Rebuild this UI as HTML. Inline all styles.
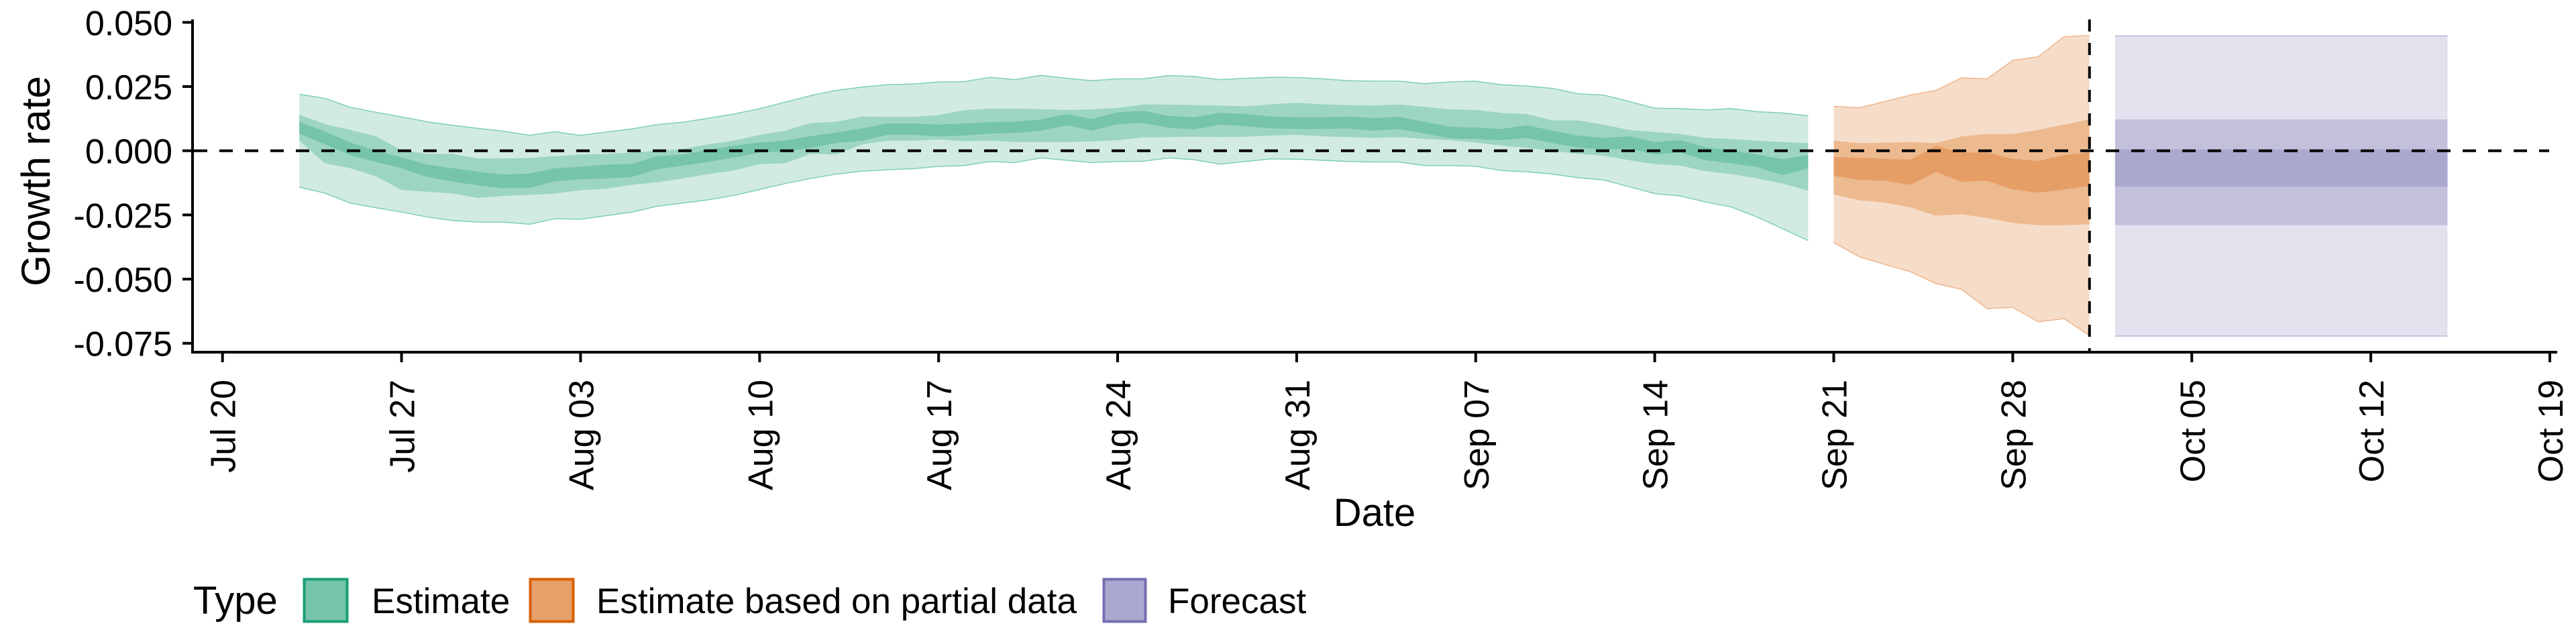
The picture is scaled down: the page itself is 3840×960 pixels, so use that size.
<!DOCTYPE html>
<html><head><meta charset="utf-8"><style>
html,body{margin:0;padding:0;background:#fff}
svg{display:block;font-family:"Liberation Sans",Arial,sans-serif}
</style></head><body>
<svg id="chart" width="3840" height="960" viewBox="0 0 3840 960" xmlns="http://www.w3.org/2000/svg">
<g id="bands"></g>
<g id="axes"></g>
<text x="0" y="0" font-size="60" text-anchor="middle" transform="translate(74,270) rotate(-90)">Growth rate</text>
<text x="2049" y="784" font-size="58" text-anchor="middle">Date</text>
<g>
<text x="288" y="915" font-size="58">Type</text>
<rect x="453.5" y="863.5" width="64" height="63" fill="#76c6ac" stroke="#1b9e77" stroke-width="4"/>
<text x="554" y="914" font-size="53">Estimate</text>
<rect x="790.5" y="863.5" width="64" height="63" fill="#e6a06a" stroke="#d95f02" stroke-width="4"/>
<text x="889" y="914" font-size="53">Estimate based on partial data</text>
<rect x="1645.5" y="863.5" width="62" height="63" fill="#aaa8cf" stroke="#7570b3" stroke-width="4"/>
<text x="1741" y="914" font-size="53">Forecast</text>
</g>
</svg>
<script>
// values in thousandths of growth rate (per-mille)
const estStartDay = 3;   // days after Jul 20
const estOuterUpper = [22.0,20.4,16.9,15.0,13.2,11.3,9.9,8.7,7.6,6.0,7.4,6.0,7.3,8.5,10.2,11.1,12.7,14.3,16.4,18.9,21.5,23.5,24.8,25.7,26.0,26.8,26.9,28.6,27.7,29.4,28.2,27.3,28.0,28.0,29.3,28.9,27.7,28.2,28.6,28.5,28.0,27.3,27.1,27.1,26.1,26.8,27.1,25.7,25.2,24.3,22.2,21.7,19.2,16.6,16.4,15.9,16.4,15.2,14.7,13.6];
const estOuterLower = [-14.2,-16.5,-20.4,-22.2,-23.9,-25.8,-27.2,-27.8,-27.8,-28.6,-26.5,-26.7,-25.3,-23.9,-21.6,-20.4,-19.1,-17.4,-15.1,-12.8,-10.8,-9.1,-8.0,-7.4,-7.0,-6.1,-5.8,-4.2,-4.6,-2.8,-3.7,-4.6,-4.2,-4.1,-2.8,-3.5,-5.2,-4.2,-3.2,-3.3,-3.7,-4.2,-4.4,-4.4,-5.8,-5.8,-6.0,-7.7,-8.2,-9.1,-10.5,-11.4,-14.0,-16.7,-17.6,-20.0,-21.9,-25.8,-30.4,-35.0];
const estMidUpper = [14.1,10.4,8.1,5.6,0.2,-1.2,-1.2,-3.0,-3.0,-2.8,-2.1,-1.5,-1.2,-0.7,0.0,0.7,2.5,3.9,6.2,7.8,10.8,11.3,13.3,13.2,13.2,13.9,15.8,16.4,16.4,16.2,15.9,16.1,16.7,18.0,18.0,17.8,17.6,17.3,18.1,18.7,18.1,17.8,17.6,18.0,17.1,16.1,15.9,14.8,14.3,11.8,11.8,10.2,8.1,7.3,6.5,5.0,4.6,3.9,3.4,3.0];
const estMidLower = [3.9,-4.9,-6.8,-10.0,-15.3,-16.0,-16.7,-18.4,-17.6,-17.2,-16.7,-15.4,-14.8,-13.3,-12.3,-10.8,-9.1,-7.7,-5.2,-4.9,-1.2,-1.5,2.5,3.9,3.9,4.4,3.7,3.9,3.4,3.4,3.4,3.6,4.1,5.2,5.3,5.5,5.3,5.5,5.9,6.2,5.6,5.3,5.0,5.3,4.6,4.1,3.2,2.0,1.1,0.0,-1.2,-1.9,-3.7,-5.2,-5.8,-8.0,-9.1,-10.8,-12.8,-15.6];
const estInnerUpper = [11.3,7.6,3.2,0.0,-2.6,-5.4,-6.8,-8.2,-9.3,-8.9,-6.8,-6.3,-5.4,-5.2,-2.1,-1.5,0.4,2.0,3.2,3.9,5.7,7.1,8.7,10.6,10.6,10.2,10.6,11.1,11.3,12.2,14.3,12.4,15.0,15.5,13.6,13.0,14.8,14.3,13.3,13.0,13.0,13.3,12.7,13.2,11.3,9.3,9.0,8.5,9.9,7.8,5.9,5.0,5.6,3.4,4.1,1.3,0.2,-1.5,-3.3,-1.7];
const estInnerLower = [6.7,2.5,-1.7,-4.4,-6.8,-10.2,-12.0,-13.5,-14.6,-14.5,-11.9,-11.1,-10.8,-10.2,-7.2,-5.8,-4.3,-2.6,-0.7,-0.3,1.1,3.0,3.9,6.2,6.2,5.6,5.9,6.7,6.9,7.8,9.9,7.8,10.4,10.8,9.0,8.3,10.2,9.6,8.7,8.5,8.5,8.7,7.8,8.5,6.7,4.8,4.6,4.1,5.0,3.0,1.3,0.4,0.9,-1.5,-0.7,-3.7,-4.9,-6.3,-9.5,-6.8];

const partStartDay = 63;
const partOuterUpper = [17.3,16.7,19.2,21.7,23.5,28.4,28.0,35.2,36.6,44.4,44.9];
const partOuterLower = [-35.7,-41.3,-44.3,-47.1,-51.7,-54.0,-61.5,-61.0,-66.6,-65.4,-71.9];
const partMidUpper = [3.9,3.0,3.1,3.4,3.0,5.6,6.5,6.5,8.1,10.2,12.2];
const partMidLower = [-17.0,-19.3,-20.2,-22.1,-25.3,-24.8,-26.2,-28.1,-29.0,-29.0,-28.6];
const partInnerUpper = [-2.4,-2.8,-3.1,-3.5,1.9,-0.7,-0.7,-3.1,-4.0,-1.7,-0.6];
const partInnerLower = [-9.8,-11.4,-11.7,-13.3,-8.3,-12.1,-11.7,-15.1,-16.3,-15.1,-13.7];

const fcStartDay = 74, fcEndDay = 87;
const fcOuter = [44.7,-72.2];
const fcMid = [12.2,-29.0];
const fcInner = [0.5,-13.9];

const yTicks = [0.050,0.025,0.000,-0.025,-0.050,-0.075];
const yTickLabels = ["0.050","0.025","0.000","-0.025","-0.050","-0.075"];
const xTickDays = [0,7,14,21,28,35,42,49,56,63,70,77,84,91];
const xTickLabels = ["Jul 20","Jul 27","Aug 03","Aug 10","Aug 17","Aug 24","Aug 31","Sep 07","Sep 14","Sep 21","Sep 28","Oct 05","Oct 12","Oct 19"];
const nowcastDay = 73;

const NS = "http://www.w3.org/2000/svg";
function X(d){ return 331.7 + d*(3801-331.7)/91; }
function Y(v){ return 224.7 - v*3827; }
function Yp(pm){ return Y(pm/1000); }
function mk(tag, attrs, parent){
  const e = document.createElementNS(NS, tag);
  for (const k in attrs) e.setAttribute(k, attrs[k]);
  parent.appendChild(e); return e;
}
const bands = document.getElementById('bands');
const axes = document.getElementById('axes');

function band(start, up, lo, fill, name, stroke){
  const top = up.map((v,i)=>X(start+i).toFixed(1)+','+Yp(v).toFixed(1));
  const bot = lo.map((v,i)=>X(start+i).toFixed(1)+','+Yp(v).toFixed(1)).reverse();
  const p = mk('polygon', {points: top.concat(bot).join(' '), fill: fill}, bands);
  
  
  if (stroke){
    const a = mk('polyline', {points: top.join(' '), fill:'none', stroke:stroke, 'stroke-width':1.5}, bands);
    
    
    const b = mk('polyline', {points: bot.join(' '), fill:'none', stroke:stroke, 'stroke-width':1.5}, bands);
    
    
  }
}
band(estStartDay, estOuterUpper, estOuterLower, '#d2ebe2', 'estimate-outer-band', '#7fcfb5');
band(estStartDay, estMidUpper, estMidLower, '#9dd5c3', 'estimate-mid-band');
band(estStartDay, estInnerUpper, estInnerLower, '#76c4ab', 'estimate-inner-band');
band(partStartDay, partOuterUpper, partOuterLower, '#f6ddca', 'partial-outer-band', '#f0b48a');
band(partStartDay, partMidUpper, partMidLower, '#edba8f', 'partial-mid-band');
band(partStartDay, partInnerUpper, partInnerLower, '#e69e67', 'partial-inner-band');

function fcRect(vals, fill, name, stroke){
  const r = mk('rect', {x: X(fcStartDay), y: Yp(vals[0]), width: X(fcEndDay)-X(fcStartDay), height: Yp(vals[1])-Yp(vals[0]), fill: fill}, bands);
  
  
  if (stroke){
    const l1 = mk('line', {x1:X(fcStartDay), x2:X(fcEndDay), y1:Yp(vals[0]), y2:Yp(vals[0]), stroke:stroke, 'stroke-width':1.5}, bands);
    
    
    const l2 = mk('line', {x1:X(fcStartDay), x2:X(fcEndDay), y1:Yp(vals[1]), y2:Yp(vals[1]), stroke:stroke, 'stroke-width':1.5}, bands);
    
    
  }
}
fcRect(fcOuter, '#e2e2ee', 'forecast-outer-band', '#b8b5d8');
fcRect(fcMid, '#c3c0dc', 'forecast-mid-band');
fcRect(fcInner, '#aaa8cd', 'forecast-inner-band');

// reference lines
const zl = mk('line', {x1:289, x2:3800, y1:Y(0), y2:Y(0), stroke:'#000', 'stroke-width':4, 'stroke-dasharray':'20 18'}, axes);


const vl = mk('line', {x1:X(nowcastDay), x2:X(nowcastDay), y1:29, y2:525, stroke:'#000', 'stroke-width':4, 'stroke-dasharray':'18 17'}, axes);



// axes
const ya = mk('line', {x1:287, x2:287, y1:29, y2:527, stroke:'#000', 'stroke-width':4}, axes);


const xa = mk('line', {x1:285, x2:3812, y1:525, y2:525, stroke:'#000', 'stroke-width':4}, axes);



yTicks.forEach((v,i)=>{
  const t = mk('line', {x1:272, x2:287, y1:Y(v), y2:Y(v), stroke:'#000', 'stroke-width':4}, axes);
  
  
  const tx = mk('text', {x:257, y:Y(v)+19, 'font-size':52, 'text-anchor':'end'}, axes);
  tx.textContent = yTickLabels[i];
  
  
});
xTickDays.forEach((d,i)=>{
  const t = mk('line', {x1:X(d), x2:X(d), y1:525, y2:540, stroke:'#000', 'stroke-width':4}, axes);
  
  
  const bx = X(d)+19;
  const tx = mk('text', {x:0, y:0, 'font-size':52, 'text-anchor':'end', transform:'translate('+bx.toFixed(1)+',566) rotate(-90)'}, axes);
  tx.textContent = xTickLabels[i];
  
  
});
</script>
</body></html>
